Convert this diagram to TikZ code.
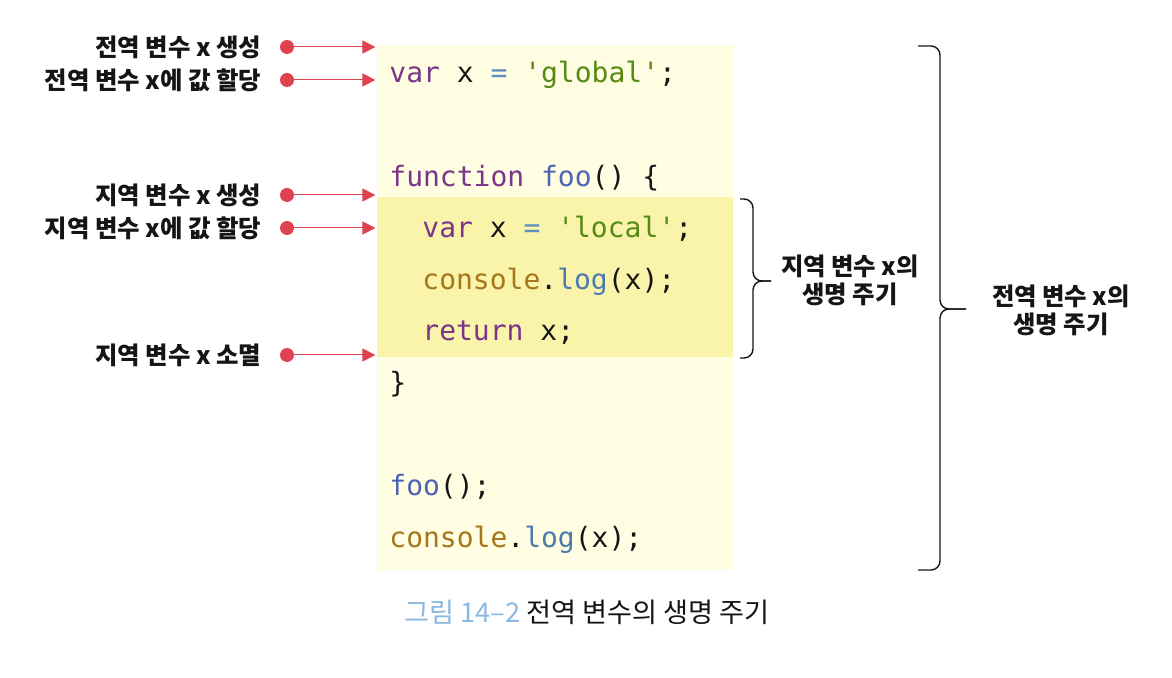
\documentclass[tikz,border=0pt]{standalone}
\usepackage{fontspec}
\setmainfont{Noto Sans CJK KR}
\newfontfamily\codefont{DejaVu Sans Mono}[Ligatures=TeXOff]
\usetikzlibrary{positioning, arrows.meta}

% colours of the figure
\definecolor{codebg}{HTML}{FFFDE2}
\definecolor{localbg}{HTML}{FAF3AA}
\definecolor{dotred}{HTML}{E0434F}
\definecolor{kw}{HTML}{7A3589}
\definecolor{op}{HTML}{5A8FC0}
\definecolor{str}{HTML}{578A14}
\definecolor{fn}{HTML}{4F63B5}
\definecolor{obj}{HTML}{A5761A}
\definecolor{meth}{HTML}{4A7CAE}
\definecolor{capblue}{HTML}{8BB8E0}
\definecolor{ink}{HTML}{151515}

\begin{document}
\begin{tikzpicture}[x=0.5pt, y=-0.5pt,
    dot/.style={circle, fill=dotred, minimum size=7pt, inner sep=0pt},
    link/.style={draw=dotred, line width=0.5pt, -{Triangle[length=6.5pt, width=6.5pt]}},
    lbl/.style={text=ink, inner sep=0pt, font=\fontsize{12.2pt}{14pt}\selectfont\bfseries},
    note/.style={lbl, align=center},
    code/.style={anchor=base west, inner sep=0pt, text=ink, font=\codefont\fontsize{14pt}{16pt}\selectfont},
    brc/.style={draw=ink, line width=0.7pt, rounded corners=4.5pt}]
    \useasboundingbox (0,0) rectangle (1172,678);

    % code backgrounds: whole program and the function body
    \fill[codebg] (377,45) rectangle (733,570);
    \fill[localbg] (377,197) rectangle (733,357);

    % code lines
    \node[code] (c1) at (389,83) {\textcolor{kw}{var} x \textcolor{op}{=} \textcolor{str}{'global'};};
    \node[code] (c2) at (389,186.5) {\textcolor{kw}{function} \textcolor{fn}{foo}() \{};
    \node[code] (c3) at (422,238) {\textcolor{kw}{var} x \textcolor{op}{=} \textcolor{str}{'local'};};
    \node[code] (c4) at (422,289.5) {\textcolor{obj}{console}.\textcolor{meth}{log}(x);};
    \node[code] (c5) at (422,341) {\textcolor{kw}{return} x;};
    \node[code] (c6) at (389,392.5) {\}};
    \node[code] (c7) at (389,495.5) {\textcolor{fn}{foo}();};
    \node[code] (c8) at (389,547) {\textcolor{obj}{console}.\textcolor{meth}{log}(x);};

    % markers on the left, each with its label and arrow
    \node[dot] (d1) at (287,47) {};
    \node[dot] (d2) at (287,80) {};
    \node[dot] (d3) at (287,195) {};
    \node[dot] (d4) at (287,228) {};
    \node[dot] (d5) at (287,355) {};

    \node[lbl, left=9pt of d1] (l1) {전역 변수 x 생성};
    \node[lbl, left=9pt of d2] (l2) {전역 변수 x에 값 할당};
    \node[lbl, left=9pt of d3] (l3) {지역 변수 x 생성};
    \node[lbl, left=9pt of d4] (l4) {지역 변수 x에 값 할당};
    \node[lbl, left=9pt of d5] (l5) {지역 변수 x 소멸};

    \foreach \i in {1,...,5} {
        \coordinate[right=40.5pt of d\i] (t\i);
        \draw[link] (d\i) -- (t\i);
    }

    % brace for the local variable
    \coordinate (ltop) at (740,199);
    \coordinate (lbot) at (740,358);
    \coordinate (ltip) at (771,281);
    \draw[brc] (ltop) -| (753,281) -- (ltip);
    \draw[brc] (lbot) -| (753,281) -- (ltip);
    \node[note] (lnote) at (850,280) {지역 변수 x의\\생명 주기};

    % brace for the global variable
    \coordinate (gtop) at (918,46);
    \coordinate (gbot) at (918,570);
    \coordinate (gtip) at (966,309);
    \draw[brc] (gtop) -| (940,309) -- (gtip);
    \draw[brc] (gbot) -| (940,309) -- (gtip);
    \node[note] (gnote) at (1061,310) {전역 변수 x의\\생명 주기};

    % caption
    \node[text=ink, font=\fontsize{13.6pt}{15pt}\selectfont] (cap) at (587,612)
        {\textcolor{capblue}{그림 14–2} 전역 변수의 생명 주기};
\end{tikzpicture}
\end{document}
